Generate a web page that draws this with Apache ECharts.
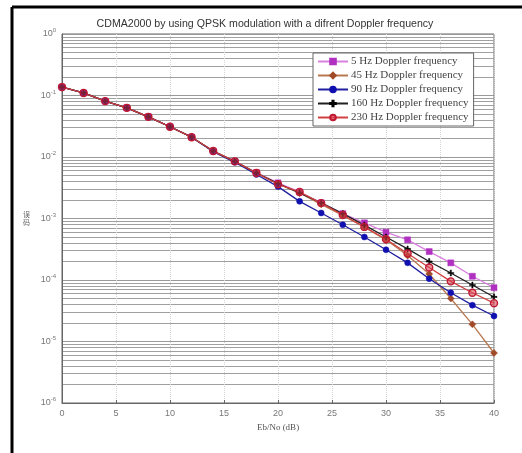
<!DOCTYPE html>
<html>
<head>
<meta charset="utf-8">
<script src="https://cdn.jsdelivr.net/npm/echarts@6/dist/echarts.min.js"></script>
<style>
  html, body { margin: 0; padding: 0; background: #fff; }
  #mychart { width: 522px; height: 453px; }
</style>
</head>
<body>
<div id="mychart"></div>
<script>
// Eb/No values (dB)
const ebno = [0, 2, 4, 6, 8, 10, 12, 14, 16, 18, 20, 22, 24, 26, 28, 30, 32, 34, 36, 38, 40];

// BER for each Doppler frequency
const ber5 = [0.137, 0.11, 0.081, 0.063, 0.045, 0.031, 0.021, 0.0125, 0.0085, 0.0056, 0.0038, 0.0027, 0.0018, 0.0012, 0.00085, 0.0006, 0.00045, 0.00029, 0.00019, 0.000115, 0.000075];
const ber45 = [0.137, 0.11, 0.081, 0.063, 0.045, 0.031, 0.021, 0.0125, 0.0085, 0.0055, 0.0037, 0.0026, 0.0017, 0.00112, 0.00072, 0.00045, 0.00025, 0.000125, 0.00005, 0.000019, 0.0000065];
const ber90 = [0.137, 0.11, 0.081, 0.063, 0.045, 0.031, 0.021, 0.0122, 0.0082, 0.0052, 0.0033, 0.0019, 0.00123, 0.00079, 0.0005, 0.00031, 0.00019, 0.000105, 0.000062, 0.000039, 0.000026];
const ber160 = [0.137, 0.11, 0.081, 0.063, 0.045, 0.031, 0.021, 0.0125, 0.0085, 0.0055, 0.0037, 0.0026, 0.0018, 0.0012, 0.00078, 0.0005, 0.00032, 0.0002, 0.00013, 0.000083, 0.000053];
const ber230 = [0.137, 0.11, 0.081, 0.063, 0.045, 0.031, 0.021, 0.0125, 0.0085, 0.0055, 0.0036, 0.0027, 0.00178, 0.00114, 0.00073, 0.00046, 0.00027, 0.00016, 0.000095, 0.000062, 0.000042];

const names = ['5 Hz Doppler frequency', '45 Hz Doppler frequency', '90 Hz Doppler frequency', '160 Hz Doppler frequency', '230 Hz Doppler frequency'];

function pairs (ys) {
  return ebno.map((x, i) => [x, ys[i]]);
}

function mkSeries (name, ys, lineColor, markColor, symbol, size, fill) {
  return {
    name: name,
    type: 'line',
    data: pairs(ys),
    symbol: symbol,
    symbolSize: size,
    showAllSymbol: true,
    lineStyle: { color: lineColor, width: 1.3 },
    itemStyle: {
      color: fill || markColor,
      borderColor: markColor,
      borderWidth: fill ? 1.4 : 0.5
    },
    animation: false
  };
}

const plusPath = 'path://M4,0H6V4H10V6H6V10H4V6H0V4H4Z';

const option = {
  animation: false,
  title: {
    text: 'CDMA2000 by using QPSK modulation with a difrent Doppler frequency',
    left: 260,
    textAlign: 'center',
    top: 14,
    textStyle: { fontSize: 10.6, fontWeight: 'normal', color: '#333', fontFamily: 'Liberation Sans' }
  },
  grid: { left: 62, right: 28, top: 34, bottom: 50, show: true, borderColor: '#666', borderWidth: 1 },
  legend: {
    orient: 'vertical',
    left: 313,
    top: 53,
    data: names,
    itemWidth: 30,
    itemHeight: 7,
    itemGap: 3,
    padding: [3, 5, 3, 4],
    backgroundColor: '#fff',
    borderColor: '#666',
    borderWidth: 1,
    textStyle: { fontFamily: 'Liberation Serif', fontSize: 11, color: '#444', padding: [0, 0, 0, -2] }
  },
  xAxis: {
    type: 'value',
    min: 0,
    max: 40,
    interval: 5,
    name: 'Eb/No (dB)',
    nameLocation: 'middle',
    nameGap: 18,
    nameTextStyle: { fontFamily: 'Liberation Serif', fontSize: 9, color: '#555' },
    axisLine: { lineStyle: { color: '#666' } },
    axisTick: { show: true, inside: true, length: 3, lineStyle: { color: '#666' } },
    axisLabel: { fontSize: 9, color: '#777', margin: 6, fontFamily: 'Liberation Sans' },
    splitLine: { show: true, lineStyle: { color: '#d4d4d4', type: 'dotted' } }
  },
  yAxis: {
    type: 'log',
    logBase: 10,
    min: 1e-6,
    max: 1,
    splitNumber: 6,
    name: '误\n码',
    nameLocation: 'middle',
    nameRotate: 0,
    nameGap: 32,
    nameTextStyle: { fontFamily: 'Noto Sans CJK SC', fontSize: 7, color: '#666', lineHeight: 8 },
    axisLine: { show: true, lineStyle: { color: '#666' } },
    axisTick: { show: false },
    axisLabel: {
      margin: 6,
      formatter: function (v) {
        const e = Math.round(Math.log10(v));
        return '{b|10}{s|' + e + '}';
      },
      rich: {
        b: { fontSize: 9, color: '#777', fontFamily: 'Liberation Sans' },
        s: { fontSize: 6, color: '#777', fontFamily: 'Liberation Sans', verticalAlign: 'top', padding: [0, 0, 7, 0] }
      }
    },
    splitLine: { show: true, lineStyle: { color: '#999', width: 1 } },
    minorTick: { show: false, splitNumber: 9 },
    minorSplitLine: { show: true, lineStyle: { color: '#a0a0a0', width: 1 } }
  },
  graphic: [
    { type: 'line', shape: { x1: 12, y1: 7, x2: 522, y2: 7 }, style: { stroke: '#000', lineWidth: 3 }, silent: true },
    { type: 'line', shape: { x1: 12, y1: 7, x2: 12, y2: 453 }, style: { stroke: '#000', lineWidth: 3 }, silent: true }
  ],
  series: [
    mkSeries(names[0], ber5, '#d880e0', '#b030c0', 'rect', 6),
    mkSeries(names[1], ber45, '#b87850', '#a04a28', 'diamond', 7),
    mkSeries(names[2], ber90, '#2020a0', '#1010b0', 'circle', 6),
    mkSeries(names[3], ber160, '#202020', '#000', plusPath, 6),
    mkSeries(names[4], ber230, '#d04040', '#c01830', 'circle', 7, 'rgba(220,60,80,0.55)')
  ]
};

const myChart = echarts.init(document.getElementById('mychart'));
myChart.setOption(option);
</script>
</body>
</html>
